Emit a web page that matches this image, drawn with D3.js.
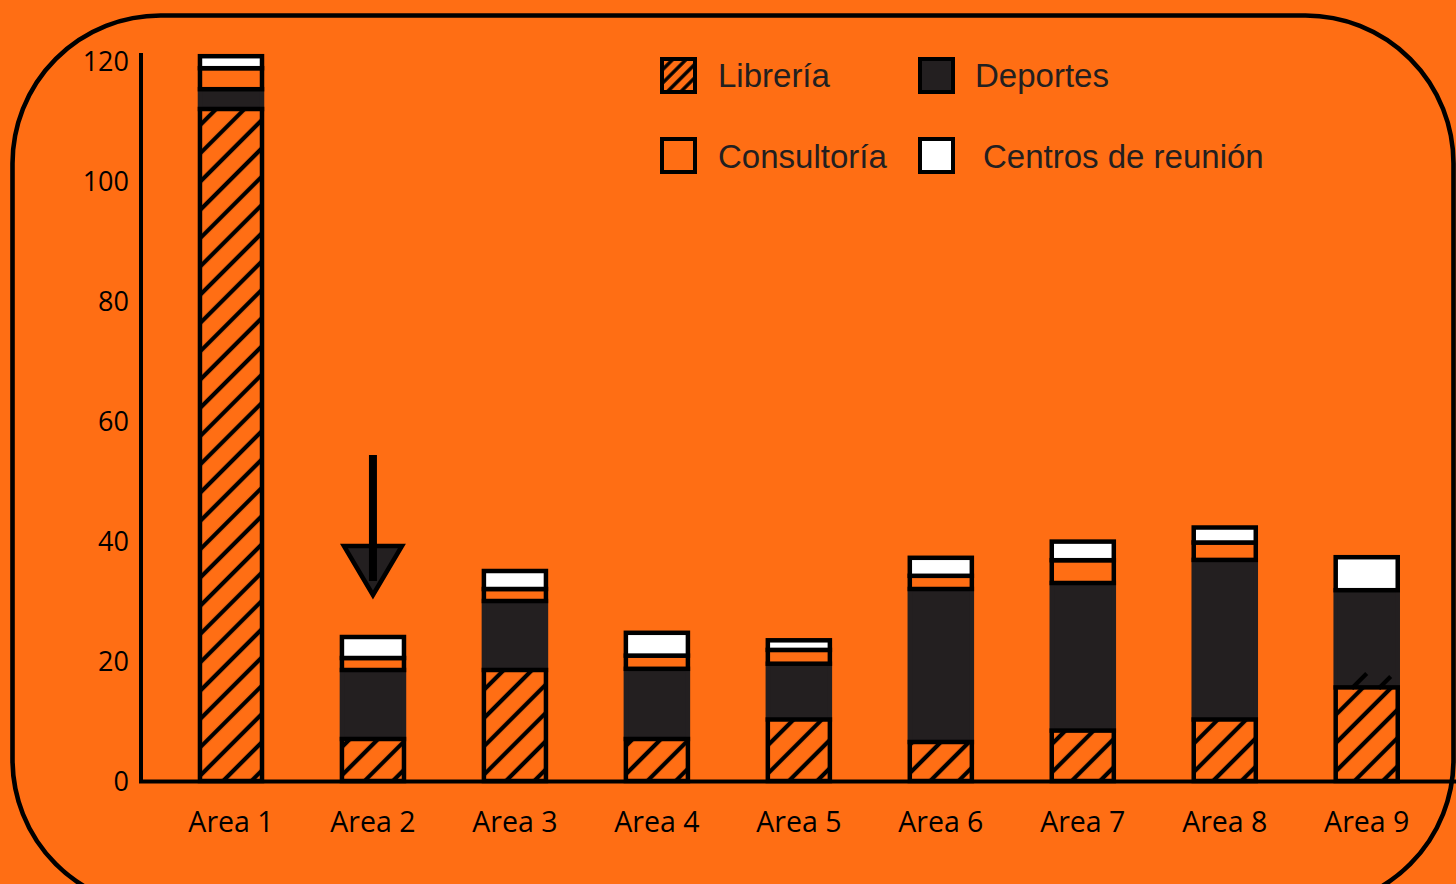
<!DOCTYPE html>
<html>
<head>
<meta charset="utf-8">
<script src="https://cdn.jsdelivr.net/npm/d3@7"></script>
<style>
  html, body { margin: 0; padding: 0; background: #FF6E14; }
  svg { display: block; }
</style>
</head>
<body>
<script>
// Categories and stacked series (bottom to top)
const areas = ["Area 1", "Area 2", "Area 3", "Area 4", "Area 5", "Area 6", "Area 7", "Area 8", "Area 9"];
const libreria    = [112, 7, 18.5, 7, 10.25, 6.5, 8.4, 10.25, 15.6];
const deportes    = [3.3, 11.5, 11.5, 11.7, 9.3, 25.5, 24.6, 26.6, 16.2];
const consultoria = [3.5, 2, 2, 2.2, 2.3, 2.2, 3.8, 2.9, 0];
const centros     = [2, 3.5, 3, 3.8, 1.6, 3, 3.1, 2.5, 5.5];
const seriesNames = ["Librería", "Deportes", "Consultoría", "Centros de reunión"];
const yTicks = [0, 20, 40, 60, 80, 100, 120];
const highlighted = "Area 2";

const W = 1456, H = 884;
const ORANGE = "#FF6E14", DARK = "#231F20", INK = "#000";

const svg = d3.select("body").append("svg").attr("width", W).attr("height", H);

// hatch patterns
const defs = svg.append("defs");
function hatch(id, gap, sw) {
  const p = defs.append("pattern").attr("id", id)
    .attr("patternUnits", "userSpaceOnUse")
    .attr("width", gap).attr("height", gap)
    .attr("patternTransform", "rotate(45)");
  p.append("rect").attr("width", gap).attr("height", gap).attr("fill", ORANGE);
  p.append("line").attr("x1", gap / 2).attr("x2", gap / 2).attr("y1", 0).attr("y2", gap)
    .attr("stroke", INK).attr("stroke-width", sw);
}
hatch("hatchBar", 20, 4.2);
hatch("hatchKey", 9.5, 3.4);

svg.append("rect").attr("width", W).attr("height", H).attr("fill", ORANGE);

// framing panel
svg.append("rect")
  .attr("x", 12.5).attr("y", 15.5).attr("width", 1441).attr("height", 892)
  .attr("rx", 148).attr("ry", 148)
  .attr("fill", "none").attr("stroke", INK).attr("stroke-width", 4.6);

const x = d3.scaleBand().domain(areas).range([160, 1437.7])
  .paddingInner(0.563).paddingOuter(0.2815);
const y = d3.scaleLinear().domain([0, 120]).range([781, 61]);

const table = areas.map((a, i) => ({
  area: a,
  "Librería": libreria[i],
  "Deportes": deportes[i],
  "Consultoría": consultoria[i],
  "Centros de reunión": centros[i]
}));
const stacked = d3.stack().keys(seriesNames)(table);

const styleOf = {
  "Librería": { fill: "url(#hatchBar)", stroke: INK },
  "Deportes": { fill: DARK, stroke: DARK },
  "Consultoría": { fill: ORANGE, stroke: INK },
  "Centros de reunión": { fill: "#FFFFFF", stroke: INK }
};

// Deportes layer first so the black outlines of neighbours sit on top
const drawOrder = ["Deportes", "Librería", "Consultoría", "Centros de reunión"];
drawOrder.forEach(name => {
  const layer = stacked.find(s => s.key === name);
  svg.append("g").selectAll("rect")
    .data(layer.filter(d => d[1] - d[0] > 0))
    .join("rect")
    .attr("x", d => x(d.data.area))
    .attr("width", x.bandwidth())
    .attr("y", d => y(d[1]))
    .attr("height", d => y(d[0]) - y(d[1]))
    .attr("fill", styleOf[name].fill)
    .attr("stroke", styleOf[name].stroke)
    .attr("stroke-width", 4.5);
});

// two hatch strokes that run past the top of the last Librería block
const lastLib = stacked[0][areas.length - 1];
const lx = x(lastLib.data.area), ly = y(lastLib[1]);
svg.append("g").selectAll("line")
  .data([[16, 15], [43, 12]])
  .join("line")
  .attr("x1", d => lx + d[0]).attr("y1", ly + 1)
  .attr("x2", d => lx + d[0] + d[1]).attr("y2", d => ly + 1 - d[1])
  .attr("stroke", INK).attr("stroke-width", 4.2);

// axes
const yAxis = d3.axisLeft(y).tickValues(yTicks).tickSize(0).tickPadding(12);
const gy = svg.append("g").attr("transform", "translate(141,0)").call(yAxis);
gy.select(".domain").remove();
gy.selectAll("text")
  .attr("font-family", "'Open Sans', sans-serif")
  .attr("font-size", 27).attr("fill", INK).attr("dy", "0.36em");
svg.append("line").attr("x1", 141).attr("x2", 141).attr("y1", 53).attr("y2", 783)
  .attr("stroke", INK).attr("stroke-width", 4);

const xAxis = d3.axisBottom(x).tickSize(0).tickPadding(0);
const gx = svg.append("g").attr("transform", "translate(0,781)").call(xAxis);
gx.select(".domain").remove();
gx.selectAll("text")
  .attr("font-family", "'Open Sans', sans-serif")
  .attr("font-size", 28.5).attr("fill", INK).attr("y", 51).attr("dy", 0);
svg.append("line").attr("x1", 139).attr("x2", W).attr("y1", 781.5).attr("y2", 781.5)
  .attr("stroke", INK).attr("stroke-width", 4);

// arrow pointing at the highlighted area
const hi = areas.indexOf(highlighted);
const hiTop = stacked[stacked.length - 1][hi][1];
const ax = x(highlighted) + x.bandwidth() / 2;
const tipY = y(hiTop) - 42, baseY = tipY - 49, shaftTop = tipY - 140;
svg.append("path")
  .attr("d", `M${ax - 29},${baseY} L${ax + 29},${baseY} L${ax},${tipY} Z`)
  .attr("fill", DARK).attr("stroke", INK).attr("stroke-width", 4.5).attr("stroke-linejoin", "miter");
svg.append("line").attr("x1", ax).attr("x2", ax).attr("y1", shaftTop).attr("y2", tipY - 14)
  .attr("stroke", INK).attr("stroke-width", 8);

// legend
const legendPos = [
  { bx: 660, by: 57, tx: 718, ty: 87 },
  { bx: 918, by: 57, tx: 975, ty: 87 },
  { bx: 660, by: 137, tx: 718, ty: 168 },
  { bx: 918, by: 137, tx: 983, ty: 168 }
];
const keyFill = {
  "Librería": "url(#hatchKey)", "Deportes": DARK,
  "Consultoría": ORANGE, "Centros de reunión": "#FFFFFF"
};
const lg = svg.append("g").selectAll("g").data(seriesNames).join("g");
lg.append("rect")
  .attr("x", (d, i) => legendPos[i].bx + 2).attr("y", (d, i) => legendPos[i].by + 2)
  .attr("width", 33).attr("height", 33)
  .attr("fill", d => keyFill[d]).attr("stroke", INK).attr("stroke-width", 4);
lg.append("text")
  .attr("x", (d, i) => legendPos[i].tx).attr("y", (d, i) => legendPos[i].ty)
  .attr("font-family", "'Liberation Sans', Arial, sans-serif")
  .attr("font-size", 33).attr("fill", DARK)
  .text(d => d);
</script>
</body>
</html>
